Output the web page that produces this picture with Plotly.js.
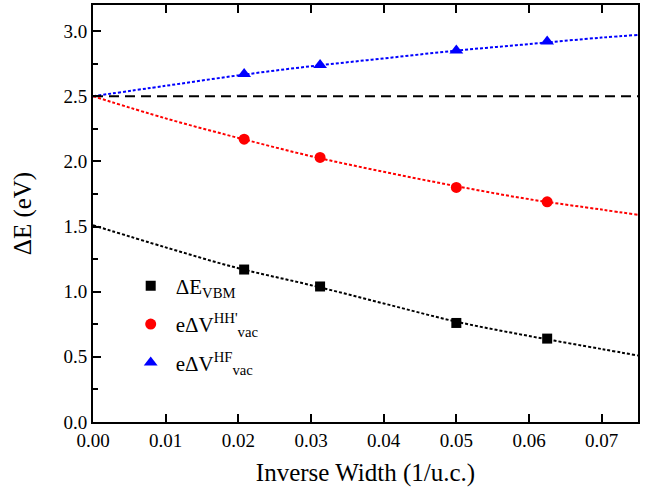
<!DOCTYPE html>
<html>
<head>
<meta charset="utf-8">
<script src="https://cdn.plot.ly/plotly-3.0.1.min.js"></script>
<style>
html,body{margin:0;padding:0;background:#fff;}
#chart{width:646px;height:493px;}
</style>
</head>
<body>
<div id="chart"></div>
<script>
// Data points (inverse width 1/u.c.)
const xPts = [0.0208, 0.03125, 0.05, 0.0625];
const vbm = [1.17, 1.04, 0.76, 0.64];
const hhp = [2.17, 2.03, 1.80, 1.69];
const hf  = [2.67, 2.74, 2.85, 2.92];

// Fit curves
const xFit = [0, 0.01, 0.02, 0.03, 0.04, 0.05, 0.06, 0.07, 0.075];
const vbmFit = [1.51, 1.34, 1.18, 1.05, 0.91, 0.77, 0.66, 0.56, 0.51];
const hhpFit = [2.50, 2.33, 2.18, 2.04, 1.92, 1.81, 1.71, 1.63, 1.59];
const hfFit  = [2.50, 2.58, 2.66, 2.73, 2.79, 2.85, 2.90, 2.95, 2.97];

// Horizontal reference level
const refX = [0, 0.075];
const refY = [2.5, 2.5];

const names = ["ΔE<sub>VBM</sub>", "eΔV<sup>HH'</sup><sub>vac</sub>", "eΔV<sup>HF</sup><sub>vac</sub>"];

const FONT = "Liberation Serif";

const traces = [
  {x: refX, y: refY, mode: "lines", line: {color: "#000", width: 2, dash: "10px,6px"}, showlegend: false, hoverinfo: "skip"},
  {x: xFit, y: vbmFit, mode: "lines", line: {color: "#000", width: 2, dash: "3px,2px", shape: "spline"}, showlegend: false},
  {x: xFit, y: hhpFit, mode: "lines", line: {color: "#ff0000", width: 2, dash: "3px,2px", shape: "spline"}, showlegend: false},
  {x: xFit, y: hfFit, mode: "lines", line: {color: "#0000ff", width: 2, dash: "3px,2px", shape: "spline"}, showlegend: false},
  {x: xPts, y: vbm, mode: "markers", name: names[0], legendgroup: "a", marker: {symbol: "square", size: 10, color: "#000"}},
  {x: xPts, y: hhp, mode: "markers", name: names[1], legendgroup: "b", marker: {symbol: "circle", size: 11, color: "#ff0000"}},
  {x: xPts, y: hf, mode: "markers", name: names[2], legendgroup: "c", marker: {symbol: "triangle-up", size: 12, color: "#0000ff"}}
];

const layout = {
  width: 646, height: 493,
  margin: {l: 93, r: 8, t: 5, b: 71},
  paper_bgcolor: "#fff", plot_bgcolor: "#fff",
  font: {family: FONT, color: "#000", size: 19},
  showlegend: true,
  legend: {x: 0.06, y: 0.375, xanchor: "left", yanchor: "top", bgcolor: "rgba(0,0,0,0)",
           font: {family: FONT, size: 21, color: "#000"}, tracegroupgap: 8, itemwidth: 40},
  xaxis: {
    range: [0, 0.075], dtick: 0.01, tick0: 0, tickformat: ".2f",
    showgrid: false, zeroline: false,
    showline: true, linecolor: "#000", linewidth: 2, mirror: "ticks",
    ticks: "inside", ticklen: 8, tickwidth: 2, tickcolor: "#000",
    tickfont: {family: FONT, size: 19, color: "#000"},
    title: {text: "Inverse Width (1/u.c.)", font: {family: FONT, size: 25, color: "#000"}, standoff: 14}
  },
  yaxis: {
    range: [0, 3.2], dtick: 0.5, tick0: 0, tickformat: ".1f",
    showgrid: false, zeroline: false,
    showline: true, linecolor: "#000", linewidth: 2, mirror: true,
    ticks: "inside", ticklen: 8, tickwidth: 2, tickcolor: "#000",
    tickfont: {family: FONT, size: 19, color: "#000"},
    minor: {dtick: 0.25, ticks: "inside", ticklen: 5, tickwidth: 2, tickcolor: "#000", showgrid: false},
    title: {text: "ΔE (eV)", font: {family: FONT, size: 25, color: "#000"}, standoff: 25}
  }
};

Plotly.newPlot("chart", traces, layout, {displayModeBar: false, staticPlot: true});
</script>
</body>
</html>
